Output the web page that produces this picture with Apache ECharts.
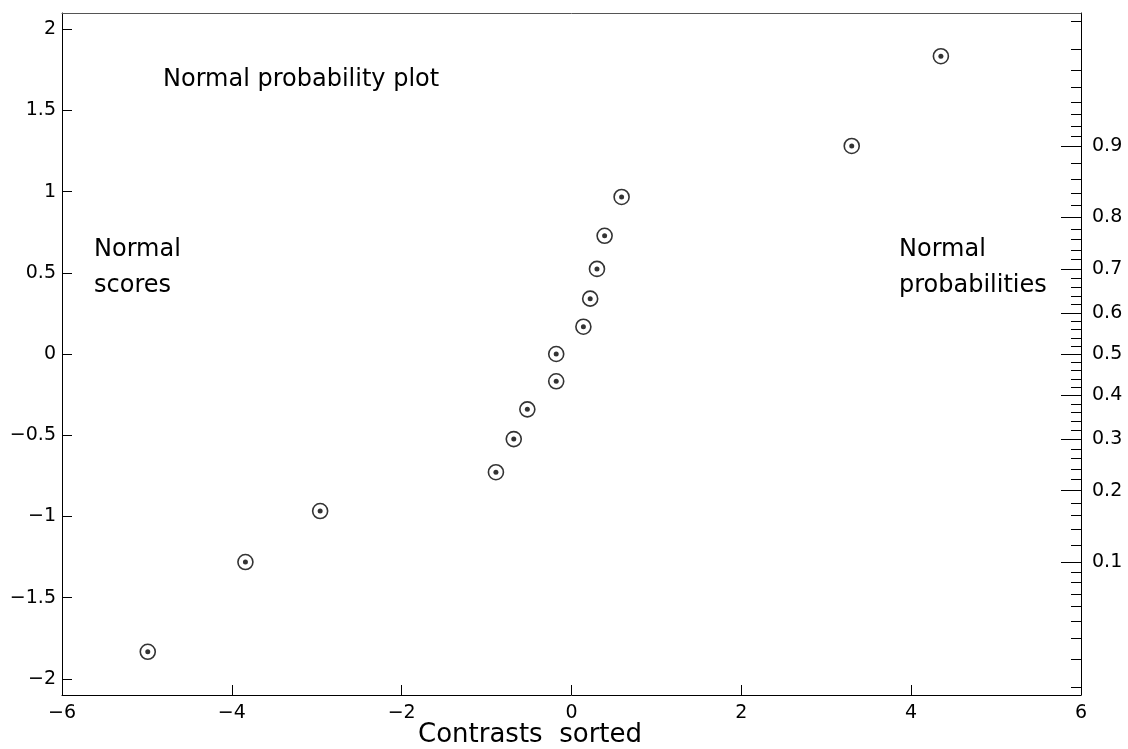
<!DOCTYPE html>
<html>
<head>
<meta charset="utf-8">
<script src="https://cdn.jsdelivr.net/npm/echarts@6/dist/echarts.min.js"></script>
<style>html,body{margin:0;padding:0;background:#fff}#c{width:1128px;height:749px}</style>
</head>
<body>
<div id="c"></div>
<script>
// Sorted contrasts (x) and their normal scores (y)
var contrasts = [-4.99, -3.84, -2.96, -0.89, -0.68, -0.52, -0.18, -0.18, 0.14, 0.22, 0.30, 0.39, 0.59, 3.30, 4.35];
var normalScores = [-1.834, -1.281, -0.967, -0.728, -0.524, -0.341, -0.168, 0.000, 0.168, 0.341, 0.524, 0.728, 0.967, 1.281, 1.834];
// Axis ticks
var xTicks = [-6, -4, -2, 0, 2, 4, 6];
var yTicks = [-2, -1.5, -1, -0.5, 0, 0.5, 1, 1.5, 2];
var probMajor = [0.1, 0.2, 0.3, 0.4, 0.5, 0.6, 0.7, 0.8, 0.9];
var probMinor = [0.02, 0.03, 0.04, 0.05, 0.06, 0.07, 0.08, 0.09,
  0.12, 0.14, 0.16, 0.18, 0.22, 0.24, 0.26, 0.28, 0.32, 0.34, 0.36, 0.38,
  0.42, 0.44, 0.46, 0.48, 0.52, 0.54, 0.56, 0.58, 0.62, 0.64, 0.66, 0.68,
  0.72, 0.74, 0.76, 0.78, 0.82, 0.84, 0.86, 0.88,
  0.91, 0.92, 0.93, 0.94, 0.95, 0.96, 0.97, 0.98];

// probability scale: inverse standard normal CDF (Acklam)
function probit(p) {
  var a = [-3.969683028665376e+01, 2.209460984245205e+02, -2.759285104469687e+02, 1.383577518672690e+02, -3.066479806614716e+01, 2.506628277459239e+00];
  var b = [-5.447609879822406e+01, 1.615858368580409e+02, -1.556989798598866e+02, 6.680131188771972e+01, -1.328068155288572e+01];
  var c = [-7.784894002430293e-03, -3.223964580411365e-01, -2.400758277161838e+00, -2.549732539343734e+00, 4.374664141464968e+00, 2.938163982698783e+00];
  var d = [7.784695709041462e-03, 3.224671290700398e-01, 2.445134137142996e+00, 3.754408661907416e+00];
  var pl = 0.02425, q, r;
  if (p < pl) { q = Math.sqrt(-2 * Math.log(p));
    return (((((c[0]*q+c[1])*q+c[2])*q+c[3])*q+c[4])*q+c[5]) / ((((d[0]*q+d[1])*q+d[2])*q+d[3])*q+1); }
  if (p > 1 - pl) { q = Math.sqrt(-2 * Math.log(1 - p));
    return -(((((c[0]*q+c[1])*q+c[2])*q+c[3])*q+c[4])*q+c[5]) / ((((d[0]*q+d[1])*q+d[2])*q+d[3])*q+1); }
  q = p - 0.5; r = q * q;
  return (((((a[0]*r+a[1])*r+a[2])*r+a[3])*r+a[4])*r+a[5])*q / (((((b[0]*r+b[1])*r+b[2])*r+b[3])*r+b[4])*r+1);
}

var majorZ = probMajor.map(probit);
var minorZ = probMinor.map(probit);
var pts = contrasts.map(function (x, i) { return [x, normalScores[i]]; });
function minus(v) { return String(v).replace('-', '\u2212'); }

var FONT = 'DejaVu Sans';
var X_MAX = 6;
var chart = echarts.init(document.getElementById('c'), null, {renderer: 'canvas'});
var yRange = 2.1;
chart.setOption({
  animation: false,
  backgroundColor: '#fff',
  grid: {left: 62, right: 47, top: 13, bottom: 54, outerBoundsMode: 'none', containLabel: false},
  xAxis: [{
    type: 'value', position: 'bottom', min: -X_MAX, max: X_MAX, interval: 2,
    axisLine: {show: true, onZero: false, lineStyle: {color: '#000', width: 1}},
    axisTick: {show: true, inside: true, length: 10, lineStyle: {color: '#000'}},
    axisLabel: {color: '#000', fontFamily: FONT, fontSize: 19, margin: 9, formatter: minus},
    splitLine: {show: false}
  }, {
    type: 'value', position: 'top', min: -X_MAX, max: X_MAX,
    axisLine: {show: true, onZero: false, lineStyle: {color: '#555', width: 1}},
    axisTick: {show: false}, axisLabel: {show: false}, splitLine: {show: false}
  }],
  yAxis: [{
    type: 'value', position: 'left', min: -yRange, max: yRange,
    axisLine: {show: true, onZero: false, lineStyle: {color: '#000', width: 1}},
    axisTick: {show: true, inside: true, length: 10, customValues: yTicks, lineStyle: {color: '#000'}},
    axisLabel: {color: '#000', fontFamily: FONT, fontSize: 19, margin: 6, customValues: yTicks, formatter: minus},
    splitLine: {show: false}
  }, {
    type: 'value', position: 'right', min: -yRange, max: yRange,
    axisLine: {show: true, onZero: false, lineStyle: {color: '#000', width: 1}},
    axisTick: {show: true, inside: true, length: 20, customValues: majorZ, lineStyle: {color: '#000'}},
    axisLabel: {color: '#000', fontFamily: FONT, fontSize: 19, margin: 11, customValues: majorZ,
      formatter: function (v) {
        var best = 0, bd = 1e9;
        for (var i = 0; i < majorZ.length; i++) { var dd = Math.abs(majorZ[i] - v); if (dd < bd) { bd = dd; best = i; } }
        return String(probMajor[best]);
      }},
    splitLine: {show: false}
  }],
  graphic: [
    {type: 'text', left: 163, top: 68, style: {text: 'Normal probability plot', font: '24px "DejaVu Sans"', fill: '#000'}},
    {type: 'text', left: 94, top: 238, style: {text: 'Normal', font: '24px "DejaVu Sans"', fill: '#000'}},
    {type: 'text', left: 94, top: 274, style: {text: 'scores', font: '24px "DejaVu Sans"', fill: '#000'}},
    {type: 'text', left: 899, top: 238, style: {text: 'Normal', font: '24px "DejaVu Sans"', fill: '#000'}},
    {type: 'text', left: 899, top: 274, style: {text: 'probabilities', font: '24px "DejaVu Sans"', fill: '#000'}},
    {type: 'text', left: 418, top: 722, style: {text: 'Contrasts  sorted', font: '26px "DejaVu Sans"', fill: '#000'}}
  ],
  series: [{
    type: 'scatter', xAxisIndex: 0, yAxisIndex: 0, data: pts,
    symbol: 'circle', symbolSize: 15,
    itemStyle: {color: '#fff', borderColor: '#000', borderWidth: 1.6},
    z: 2
  }, {
    type: 'scatter', xAxisIndex: 0, yAxisIndex: 0, data: pts,
    symbol: 'circle', symbolSize: 5,
    itemStyle: {color: '#000'},
    z: 3
  }, {
    // minor probability ticks on the right edge (positions through the y scale)
    type: 'custom', xAxisIndex: 0, yAxisIndex: 1, clip: false, silent: true,
    data: minorZ.map(function (z) { return [z]; }),
    encode: {y: 0},
    renderItem: function (params, api) {
      var p = api.coord([X_MAX, api.value(0)]);
      var y = Math.round(p[1]) + 0.5;
      var x = Math.round(p[0]);
      return {type: 'line', shape: {x1: x - 10, y1: y, x2: x, y2: y}, style: {stroke: '#000', lineWidth: 1}};
    },
    z: 4
  }]
});
</script>
</body>
</html>
